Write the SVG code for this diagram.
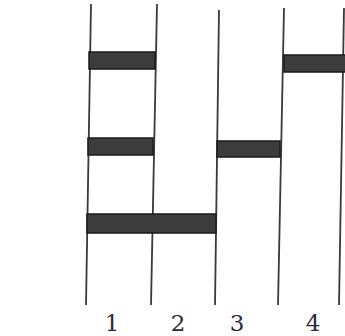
<svg xmlns="http://www.w3.org/2000/svg" width="345" height="336" viewBox="0 0 345 336">
<style>
.ln{stroke:#3a3a3a;stroke-width:1.8;fill:none}
.bar{fill:#3c3c3c;stroke:#1a1a1a;stroke-width:1.5}
.lbl{font-family:"DejaVu Serif",serif;font-size:23px;fill:#2a2a3a;text-anchor:middle}
</style>
<rect width="345" height="336" fill="#fff"/>
<g id="connectors">
<line class="ln" x1="91" y1="4" x2="86" y2="305"/>
<line class="ln" x1="157" y1="4" x2="151" y2="305"/>
<line class="ln" x1="219" y1="10" x2="215" y2="305"/>
<line class="ln" x1="284" y1="8" x2="278" y2="305"/>
<line class="ln" x1="344" y1="8" x2="339" y2="305"/>
</g>
<g id="bar1"><rect class="bar" x="89" y="52" width="66" height="17"/></g>
<g id="bar2"><rect class="bar" x="284" y="55" width="62" height="17"/></g>
<g id="bar3"><rect class="bar" x="88" y="138" width="65" height="17"/></g>
<g id="bar4"><rect class="bar" x="217" y="141" width="63" height="16"/></g>
<g id="bar5"><rect class="bar" x="87" y="214" width="129" height="19"/></g>
<g id="labels">
<text class="lbl" x="112" y="331">1</text>
<text class="lbl" x="178" y="331">2</text>
<text class="lbl" x="237" y="331">3</text>
<text class="lbl" x="313" y="331">4</text>
</g>
</svg>
